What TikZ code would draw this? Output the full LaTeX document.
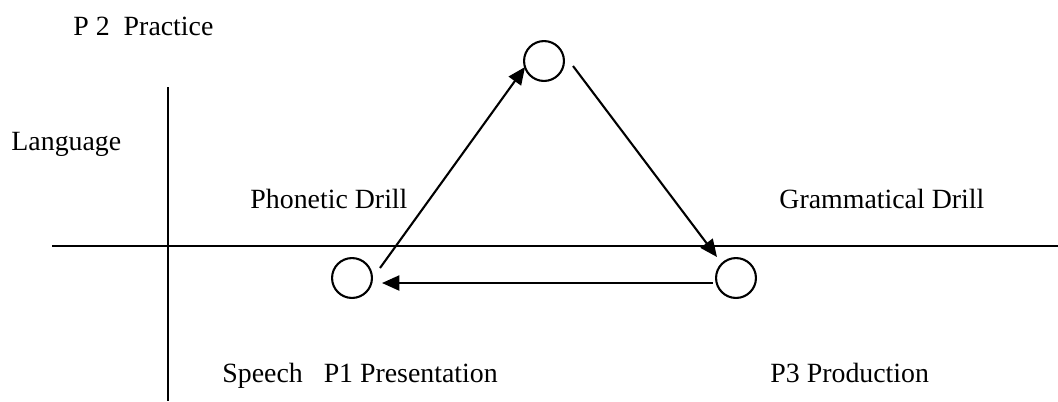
\documentclass[tikz,border=0pt]{standalone}
\usepackage{fontspec}
\setmainfont{Liberation Serif}
\usetikzlibrary{arrows.meta}

\begin{document}
\begin{tikzpicture}[
  x=0.431pt, y=-0.431pt,
  stage/.style={circle, draw, line width=0.9pt, minimum size=17.2pt, inner sep=0pt},
  arr/.style={-{Triangle[length=7.5pt, width=6.5pt]}, line width=0.9pt},
  axis/.style={line width=1pt},
  lbl/.style={font=\fontsize{12}{14}\selectfont, inner sep=0pt, anchor=base west}
]
  \useasboundingbox (0,0) rectangle (1058,401);

  \draw[axis] (52,246) -- (1058,246);
  \draw[axis] (168,87) -- (168,401);

  \node[stage] (p2) at (544,61)  {};
  \node[stage] (p1) at (352,278) {};
  \node[stage] (p3) at (736,278) {};

  \node[lbl] (practice) at (73,35)   {P 2\ \ Practice};
  \node[lbl] (lang)     at (11,150)  {Language};
  \node[lbl] (phon)     at (250,208) {Phonetic Drill};
  \node[lbl] (gram)     at (779,208) {Grammatical Drill};
  \node[lbl] (pres)     at (222,382) {Speech\ \ \ P1 Presentation};
  \node[lbl] (prod)     at (770,382) {P3 Production};

  \draw[arr] ([shift={(28,-10)}]p1.center) -- ([shift={(-19,6)}]p2.center);
  \draw[arr] ([shift={(29,5)}]p2.center) -- ([shift={(-19,-21)}]p3.center);
  \draw[arr] ([shift={(-23,5)}]p3.center) -- ([shift={(30,5)}]p1.center);
\end{tikzpicture}
\end{document}
